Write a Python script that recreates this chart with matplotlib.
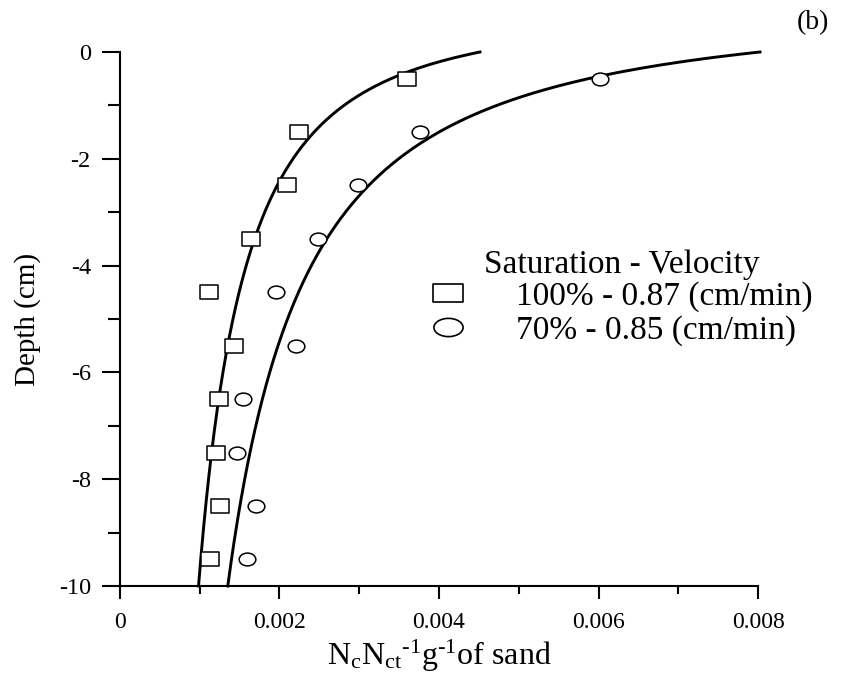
import numpy as np
import matplotlib
matplotlib.use("Agg")
import matplotlib.pyplot as plt
from matplotlib.path import Path
from matplotlib.lines import Line2D
from matplotlib.ticker import MultipleLocator, FuncFormatter

# Measured profiles: colloid retention per gram of sand versus depth
depth = [-0.5, -1.5, -2.5, -3.5, -4.5, -5.5, -6.5, -7.5, -8.5, -9.5]
sat100 = [3.595e-3, 2.245e-3, 2.09e-3, 1.639e-3, 1.11e-3,
          1.43e-3, 1.24e-3, 1.20e-3, 1.25e-3, 1.13e-3]
sat70 = [6.019e-3, 3.762e-3, 2.981e-3, 2.487e-3, 1.956e-3,
         2.207e-3, 1.542e-3, 1.467e-3, 1.705e-3, 1.592e-3]

labels = ["100% - 0.87 (cm/min)", "70% - 0.85 (cm/min)"]
legend_title = "Saturation - Velocity"

# Power-law fit curves: x = x_top * (1 - y / y0) ** (-p)
fit100 = {"x_top": 4.514e-3, "y0": 0.8, "p": 0.585}
fit70 = {"x_top": 8.025e-3, "y0": 0.92, "p": 0.72}

x_ticks = [0, 0.002, 0.004, 0.006, 0.008]
y_ticks = [0, -2, -4, -6, -8, -10]

plt.rcParams["font.family"] = ["Liberation Serif", "DejaVu Serif"]
plt.rcParams["mathtext.fontset"] = "custom"
plt.rcParams["mathtext.rm"] = "Liberation Serif"
plt.rcParams["mathtext.it"] = "Liberation Serif"
plt.rcParams["axes.unicode_minus"] = False


def rect_marker(aspect):
    verts = [(-aspect, -1), (aspect, -1), (aspect, 1), (-aspect, 1), (-aspect, -1)]
    codes = [Path.MOVETO, Path.LINETO, Path.LINETO, Path.LINETO, Path.CLOSEPOLY]
    return Path(verts, codes)


def ellipse_marker(aspect):
    c = Path.unit_circle()
    return Path(c.vertices * np.array([aspect, 1.0]), c.codes)


def fit_curve(fit, y):
    return fit["x_top"] * (1.0 - y / fit["y0"]) ** (-fit["p"])


fig = plt.figure(figsize=(8.54, 6.77), dpi=100)
ax = fig.add_axes([0.1405, 0.1344, 0.7471, 0.7888])

yy = np.linspace(-10, 0, 300)
ax.plot(fit_curve(fit100, yy), yy, color="black", lw=2.1, clip_on=False, zorder=3)
ax.plot(fit_curve(fit70, yy), yy, color="black", lw=2.1, clip_on=False, zorder=3)

sq = rect_marker(1.3)
el = ellipse_marker(1.3)
ax.plot(sat100, depth, ls="none", marker=sq, ms=12.3, mfc="white",
        mec="black", mew=1.1, zorder=4)
ax.plot(sat70, depth, ls="none", marker=el, ms=12.0, mfc="white",
        mec="black", mew=1.1, zorder=4)

ax.set_xlim(0, 0.008)
ax.set_ylim(-10, 0)
ax.set_xticks(x_ticks)
ax.set_yticks(y_ticks)
ax.xaxis.set_minor_locator(MultipleLocator(0.001))
ax.yaxis.set_minor_locator(MultipleLocator(1))
ax.xaxis.set_major_formatter(FuncFormatter(lambda v, _: "0" if abs(v) < 1e-12 else f"{v:.3f}"))
ax.yaxis.set_major_formatter(FuncFormatter(lambda v, _: f"{int(round(v))}"))

for side in ("top", "right"):
    ax.spines[side].set_visible(False)
for side in ("left", "bottom"):
    ax.spines[side].set_linewidth(1.5)

ax.tick_params(axis="x", which="major", direction="out", length=9.4, width=1.5,
               pad=9, labelsize=17)
ax.tick_params(axis="x", which="minor", direction="out", length=6, width=1.5)
ax.tick_params(axis="y", which="major", direction="out", length=13, width=1.5,
               pad=8, labelsize=17.5)
ax.tick_params(axis="y", which="minor", direction="out", length=9, width=1.5)

ax.set_xlabel(r"N$_\mathregular{c}$N$_\mathregular{ct}$$^\text{-1}$"
              r"g$^\text{-1}$of sand", fontsize=23, labelpad=4)
ax.set_ylabel("Depth (cm)", fontsize=21, labelpad=13)

handles = [
    Line2D([], [], ls="none", marker=rect_marker(1.6), ms=21, mfc="white",
           mec="black", mew=1.2),
    Line2D([], [], ls="none", marker=ellipse_marker(1.6), ms=21, mfc="white",
           mec="black", mew=1.2),
]
leg = ax.legend(handles, labels, title=legend_title, loc="upper left",
                bbox_to_anchor=(0.4875, 0.631), frameon=False, fontsize=24,
                title_fontsize=24, handlelength=1.0, handletextpad=1.545,
                labelspacing=0.1, borderpad=0.0, borderaxespad=0.0)
leg._legend_box.sep = 1

fig.text(0.952, 0.967, "(b)", fontsize=20, ha="center", va="center")

fig.savefig("out.png", dpi=100)
